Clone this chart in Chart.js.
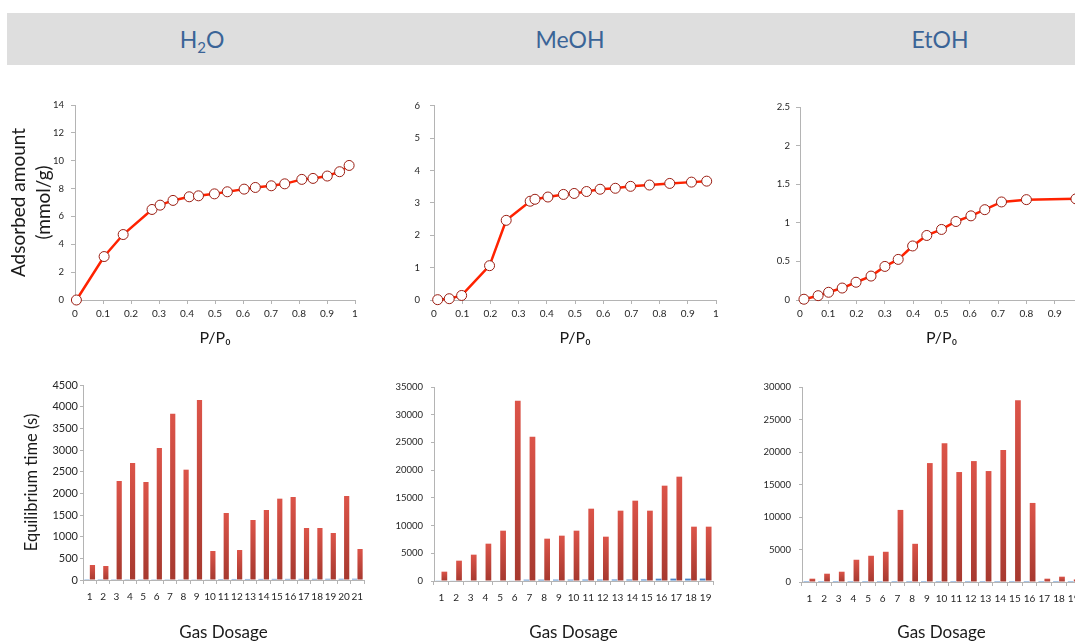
<!DOCTYPE html>
<html>
<head>
<meta charset="utf-8">
<script src="https://cdn.jsdelivr.net/npm/chart.js@4.4.1/dist/chart.umd.min.js"></script>
<style>
  html, body { margin: 0; padding: 0; background: #fff; overflow: hidden; }
  body { width: 1075px; height: 643px; position: relative; font-family: Lato, 'Open Sans', sans-serif; }
  #band { position: absolute; left: 7px; top: 13px; width: 1080px; height: 52px; background: #dedede; }
  .head { position: absolute; top: 13px; height: 52px; line-height: 52px; font-size: 23px; color: #3a6497; transform: translateX(-50%); white-space: nowrap; }
  .head sub { font-size: 15px; vertical-align: -5px; line-height: 0; }
  canvas { position: absolute; }
</style>
</head>
<body>
<div id="band"></div>
<div class="head" style="left:202px">H<sub>2</sub>O</div>
<div class="head" style="left:570px">MeOH</div>
<div class="head" style="left:940px">EtOH</div>

<canvas id="isoH2O" width="370" height="260" style="left:0px;top:90px"></canvas>
<canvas id="isoMeOH" width="360" height="260" style="left:370px;top:90px"></canvas>
<canvas id="isoEtOH" width="360" height="260" style="left:740px;top:90px"></canvas>
<canvas id="barH2O" width="375" height="273" style="left:0px;top:370px"></canvas>
<canvas id="barMeOH" width="360" height="273" style="left:370px;top:370px"></canvas>
<canvas id="barEtOH" width="360" height="273" style="left:740px;top:370px"></canvas>

<script>
// isotherms: relative pressure P/P0 and adsorbed amount (mmol/g)
const h2oP    = [0.005, 0.104, 0.172, 0.275, 0.304, 0.350, 0.408, 0.441, 0.498, 0.544, 0.604, 0.644, 0.701, 0.749, 0.810, 0.850, 0.901, 0.945, 0.979];
const h2oAmt  = [0, 3.12, 4.70, 6.50, 6.81, 7.15, 7.41, 7.48, 7.62, 7.77, 7.96, 8.08, 8.20, 8.34, 8.66, 8.73, 8.90, 9.21, 9.66];
const meohP   = [0.013, 0.054, 0.098, 0.197, 0.256, 0.341, 0.358, 0.404, 0.459, 0.497, 0.541, 0.589, 0.643, 0.697, 0.764, 0.836, 0.913, 0.967];
const meohAmt = [0.01, 0.04, 0.14, 1.06, 2.46, 3.05, 3.11, 3.18, 3.26, 3.29, 3.35, 3.42, 3.45, 3.51, 3.55, 3.60, 3.64, 3.67];
const etohP   = [0.014, 0.064, 0.101, 0.149, 0.198, 0.251, 0.300, 0.347, 0.398, 0.448, 0.500, 0.551, 0.604, 0.653, 0.712, 0.800, 0.975];
const etohAmt = [0.01, 0.056, 0.10, 0.155, 0.23, 0.31, 0.435, 0.526, 0.70, 0.836, 0.914, 1.017, 1.09, 1.17, 1.27, 1.30, 1.31];

// tick labels
const pTicks       = [0, 0.1, 0.2, 0.3, 0.4, 0.5, 0.6, 0.7, 0.8, 0.9, 1];
const h2oAmtTicks  = [0, 2, 4, 6, 8, 10, 12, 14];
const meohAmtTicks = [0, 1, 2, 3, 4, 5, 6];
const etohAmtTicks = [0, 0.5, 1, 1.5, 2, 2.5];
const h2oTimeTicks  = [0, 500, 1000, 1500, 2000, 2500, 3000, 3500, 4000, 4500];
const meohTimeTicks = [0, 5000, 10000, 15000, 20000, 25000, 30000, 35000];
const etohTimeTicks = [0, 5000, 10000, 15000, 20000, 25000, 30000];

// equilibrium time per gas dose (s)
const h2oDose  = ['1','2','3','4','5','6','7','8','9','10','11','12','13','14','15','16','17','18','19','20','21'];
const h2oRed   = [346, 323, 2285, 2700, 2262, 3046, 3838, 2546, 4154, 669, 1546, 692, 1385, 1615, 1877, 1915, 1200, 1200, 1085, 1938, 715];
const h2oBlue  = [4, 4, 5, 5, 5, 6, 6, 6, 7, 8, 22, 24, 24, 25, 26, 26, 27, 27, 28, 28, 29];
const meohDose = ['1','2','3','4','5','6','7','8','9','10','11','12','13','14','15','16','17','18','19'];
const meohRed  = [1684, 3668, 4751, 6735, 9080, 32534, 26039, 7637, 8179, 9080, 13049, 7998, 12688, 14493, 12688, 17199, 18823, 9802, 9802];
const meohBlue = [60, 70, 80, 90, 100, 110, 240, 240, 250, 250, 260, 260, 270, 270, 280, 420, 430, 430, 440];
const etohDose = ['1','2','3','4','5','6','7','8','9','10','11','12','13','14','15','16','17','18','19'];
const etohRed  = [511, 1278, 1584, 3424, 4037, 4651, 11090, 5877, 18296, 21363, 16917, 18603, 17070, 20290, 27955, 12163, 511, 818, 400];
const etohBlue = [150, 150, 150, 150, 150, 150, 150, 150, 150, 150, 150, 150, 150, 150, 150, 150, 150, 150, 150];

Chart.defaults.font.family = "Lato, 'Open Sans', sans-serif";
Chart.defaults.color = '#262626';
const AXIS = '#b4b4b4';

function fixedTicks(list) {
  return scale => { scale.ticks = list.map(v => ({ value: v })); };
}
function plain(v) { return String(Math.round(v * 100) / 100); }

function baseOpts(box) {
  return {
    responsive: false,
    animation: false,
    devicePixelRatio: 1,
    events: [],
    layout: { padding: { top: box.top, right: box.right, left: 0, bottom: 0 } },
    plugins: { legend: { display: false }, tooltip: { enabled: false } }
  };
}

function yTitle(text) {
  if (!text) return { display: false };
  return { display: true, text: text, color: '#1a1a1a', font: { size: 19, lineHeight: 25 / 19 }, padding: { top: 6, bottom: 0 } };
}

function isotherm(id, xs, ys, yTicks, ymax, box) {
  const opts = baseOpts(box);
  opts.scales = {
    x: {
      type: 'linear', min: 0, max: 1,
      afterBuildTicks: fixedTicks(pTicks),
      afterFit: s => { s.height = box.xH; },
      border: { color: AXIS },
      grid: { drawOnChartArea: false, color: AXIS, tickLength: 4 },
      ticks: { font: { size: 10 }, padding: 4, maxRotation: 0, callback: plain },
      title: { display: true, text: 'P/P₀', color: '#1a1a1a', font: { size: 16 }, padding: { top: 0, bottom: 3 } }
    },
    y: {
      min: 0, max: ymax,
      afterBuildTicks: fixedTicks(yTicks),
      afterFit: s => { s.width = box.yW; },
      border: { color: AXIS },
      grid: { drawOnChartArea: false, color: AXIS, tickLength: 4 },
      ticks: { font: { size: 9.5 }, padding: box.yPad, callback: plain },
      title: yTitle(box.yTitle)
    }
  };
  new Chart(document.getElementById(id), {
    type: 'line',
    data: {
      datasets: [{
        data: xs.map((x, i) => ({ x: x, y: ys[i] })),
        borderColor: '#ff2200',
        borderWidth: 2.5,
        pointRadius: 5,
        pointBackgroundColor: '#ffffff',
        pointBorderColor: '#9a1d12',
        pointBorderWidth: 1,
        tension: 0,
        clip: false
      }]
    },
    options: opts
  });
}

function redFill(ctx) {
  const chart = ctx.chart;
  if (!chart.chartArea) return '#c9463c';
  const y = chart.scales.y;
  const top = y.getPixelForValue(ctx.raw);
  const bottom = y.getPixelForValue(0);
  if (!(bottom - top > 1)) return '#c9463c';
  const g = chart.ctx.createLinearGradient(0, top, 0, bottom);
  g.addColorStop(0, '#dc5449');
  g.addColorStop(1, '#a6392f');
  return g;
}

function bars(id, labels, blue, red, yTicks, ymax, box) {
  const opts = baseOpts(box);
  opts.scales = {
    x: {
      afterFit: s => { s.height = box.xH; },
      border: { color: AXIS },
      grid: { drawOnChartArea: false, color: AXIS, tickLength: 4 },
      ticks: { font: { size: 10 }, padding: 7, maxRotation: 0, autoSkip: false },
      title: { display: true, text: 'Gas Dosage', color: '#1a1a1a', font: { size: 17 }, padding: { top: 0, bottom: box.tPad } }
    },
    y: {
      min: 0, max: ymax,
      afterBuildTicks: fixedTicks(yTicks),
      afterFit: s => { s.width = box.yW; },
      border: { color: AXIS },
      grid: { drawOnChartArea: false, color: AXIS, tickLength: 3 },
      ticks: { font: { size: box.yFont }, padding: box.yPad, callback: v => String(v) },
      title: box.yTitle ? { display: true, text: box.yTitle, color: '#1a1a1a', font: { size: 16.5 }, padding: { top: 22, bottom: 0 } } : { display: false }
    }
  };
  new Chart(document.getElementById(id), {
    type: 'bar',
    data: {
      labels: labels,
      datasets: [
        { data: blue, backgroundColor: '#4a86c8', categoryPercentage: 0.82, barPercentage: 0.95 },
        { data: red, backgroundColor: redFill, categoryPercentage: 0.82, barPercentage: 0.95 }
      ]
    },
    options: opts
  });
}

isotherm('isoH2O', h2oP, h2oAmt, h2oAmtTicks, 14,
  { top: 15, right: 15, yW: 75, xH: 50, yPad: 7, yTitle: ['Adsorbed amount', '(mmol/g)'] });
isotherm('isoMeOH', meohP, meohAmt, meohAmtTicks, 6,
  { top: 15, right: 14, yW: 64, xH: 50, yPad: 10 });
isotherm('isoEtOH', etohP, etohAmt, etohAmtTicks, 2.5,
  { top: 17, right: 17, yW: 60, xH: 50, yPad: 6 });

bars('barH2O', h2oDose, h2oBlue, h2oRed, h2oTimeTicks, 4500,
  { top: 15, right: 11, yW: 83, xH: 63, yPad: 2, yFont: 11, tPad: 0, yTitle: 'Equilibrium time (s)' });
bars('barMeOH', meohDose, meohBlue, meohRed, meohTimeTicks, 35000,
  { top: 17, right: 17, yW: 64, xH: 62, yPad: 8, yFont: 9.5, tPad: 0 });
bars('barEtOH', etohDose, etohBlue, etohRed, etohTimeTicks, 30000,
  { top: 17, right: 19, yW: 62, xH: 61, yPad: 8, yFont: 9.5, tPad: 0 });
</script>
</body>
</html>
